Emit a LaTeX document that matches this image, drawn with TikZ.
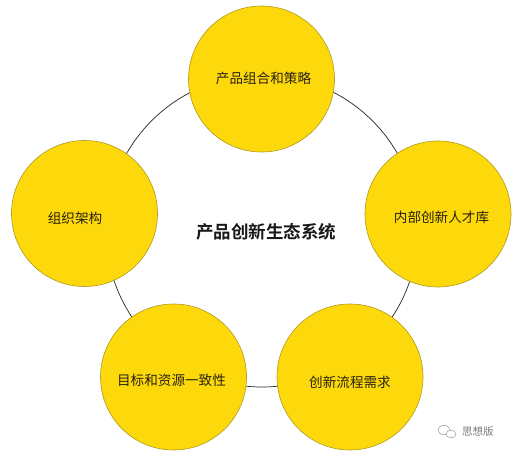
\documentclass[tikz,border=0pt]{standalone}
\usepackage{fontspec}
\newfontfamily\cjk{Noto Sans CJK SC}
\newfontfamily\cjkb{Noto Sans CJK SC Bold}
\definecolor{ylw}{HTML}{FDD80A}
\definecolor{ylwline}{HTML}{B09A20}
\definecolor{txt}{HTML}{2A2410}
\definecolor{wm}{HTML}{9A9A9A}
\tikzset{
  bubble/.style={circle, fill=ylw, draw=ylwline, line width=0.6pt, minimum size=146pt, inner sep=0pt},
  lbl/.style={font=\cjk\fontsize{13.6pt}{16pt}\selectfont, text=txt, inner sep=0pt},
  ring/.style={draw=black!85, line width=0.7pt}
}
\begin{document}
\begin{tikzpicture}[x=1pt,y=-1pt]
\useasboundingbox[fill=white] (0,0) rectangle (524,462);
\coordinate (ctr) at (262,231);
\draw[ring] (ctr) circle[radius=156];
\node[bubble] (top) at (261.5,79) {};
\node[bubble] (left) at (84.5,213.5) {};
\node[bubble] (right) at (438,214) {};
\node[bubble] (bl) at (173.5,377) {};
\node[bubble] (br) at (350,377) {};
\node[lbl] (ttop) at (263.5,78) {产品组合和策略};
\node[lbl] (tleft) at (75,218) {组织架构};
\node[lbl] (tright) at (441.5,217) {内部创新人才库};
\node[lbl] (tbl) at (171.5,380) {目标和资源一致性};
\node[lbl] (tbr) at (350,382) {创新流程需求};
\node[font=\cjkb\fontsize{17.5pt}{20pt}\selectfont, text=black!90, inner sep=0pt] (title) at (266,232) {产品创新生态系统};
% watermark
\draw[wm, line width=0.5pt] (444,430) ellipse[x radius=6, y radius=4.6];
\draw[wm, line width=0.5pt, fill=white] (451,434) ellipse[x radius=5, y radius=3.8];
\node[font=\cjk\fontsize{10.5pt}{12pt}\selectfont, text=wm!80!black, inner sep=0pt, anchor=west] (wmtext) at (462,432) {思想版};
\end{tikzpicture}
\end{document}
